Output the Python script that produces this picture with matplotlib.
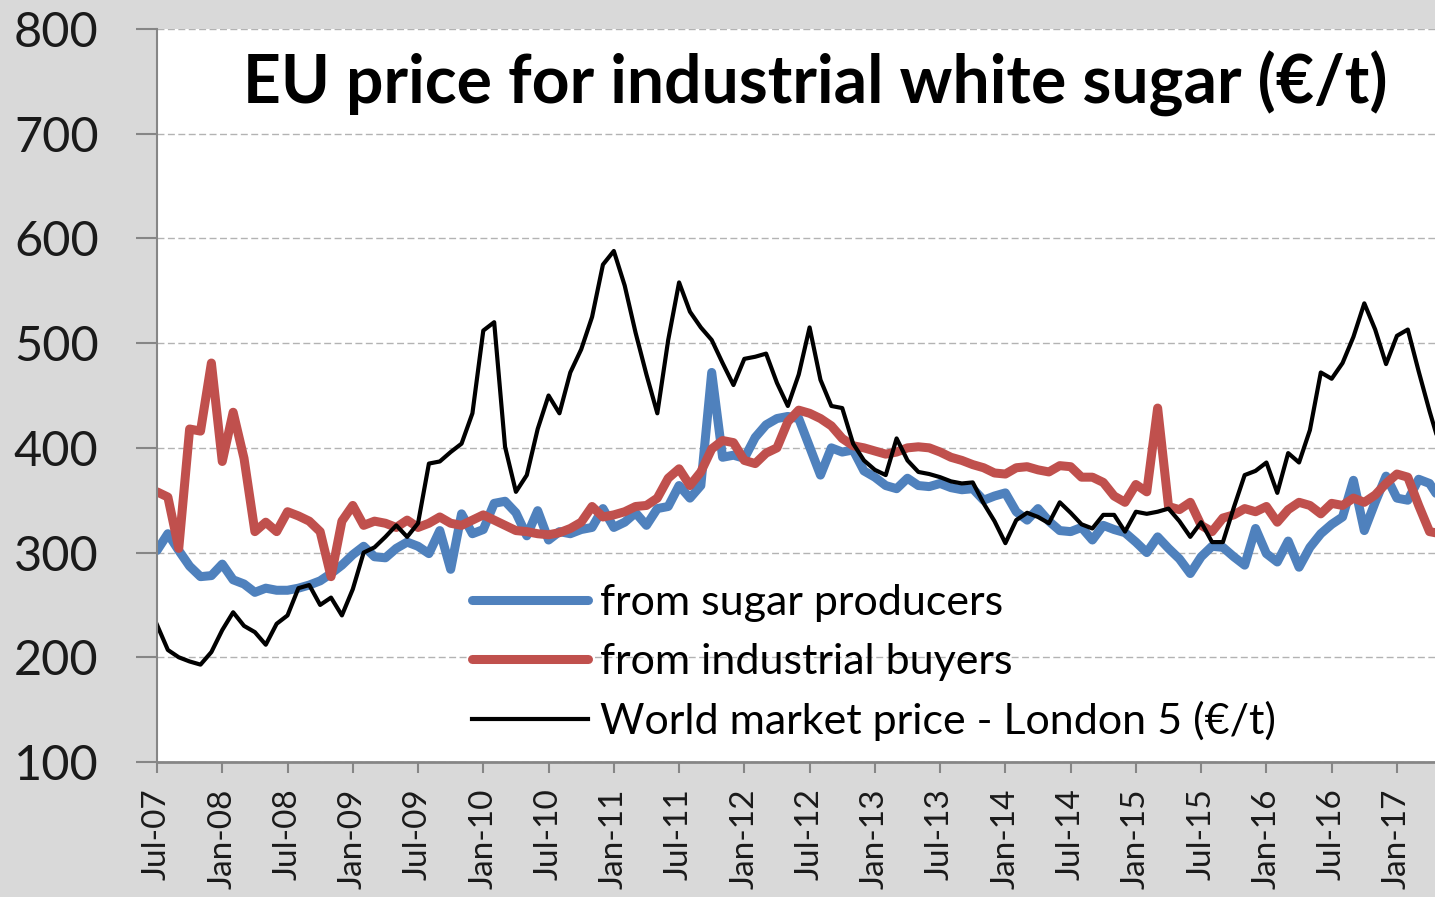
import numpy as np
import matplotlib.pyplot as plt

plt.rcParams['font.family'] = ['Lato', 'DejaVu Sans']

# monthly prices from Jul-07 onwards (EUR/t)
producers = [302, 318, 302, 287, 277, 278, 289, 274, 270, 262, 266, 264, 264, 266, 269, 273, 280, 288, 298, 306,
             296, 295, 304, 310, 306, 299, 321, 284, 337, 318, 322, 347, 349, 338, 316, 340, 312, 320, 318, 322,
             324, 342, 324, 329, 338, 326, 342, 344, 364, 352, 364, 472, 391, 393, 390, 410, 422, 428, 430,
             428, 401, 374, 400, 396, 398, 378, 372, 364, 361, 371, 364, 363, 366, 362, 360, 361, 350, 354,
             357, 339, 331, 342, 330, 321, 320, 324, 312, 326, 322, 319, 310, 300, 315, 304, 294, 280, 296, 306,
             305, 296, 288, 323, 299, 291, 311, 286, 305, 318, 327, 334, 369, 321, 348, 373, 352, 350, 370, 366, 350]

buyers = [358, 353, 304, 418, 416, 481, 387, 434, 390, 320, 329, 320, 339, 335, 330, 320, 277, 330, 345, 326,
          330, 328, 324, 331, 324, 328, 334, 328, 326, 331, 336, 331, 326, 321, 320, 318, 317, 319, 323, 329,
          344, 334, 336, 339, 344, 345, 352, 371, 380, 364, 377, 399, 407, 405, 388, 385, 395, 400, 425,
          436, 433, 428, 421, 409, 402, 400, 397, 394, 396, 400, 401, 400, 396, 391, 388, 384, 381, 376,
          375, 381, 382, 379, 377, 383, 382, 372, 372, 367, 354, 348, 365, 358, 438, 344, 341, 348, 326, 320,
          333, 336, 342, 339, 344, 329, 341, 348, 345, 337, 347, 345, 352, 348, 355, 366, 375, 372, 345, 320, 318]

world = [231, 207, 200, 196, 193, 205, 226, 243, 230, 224, 212, 232, 240, 266, 269, 250, 257, 240, 265, 300,
         305, 315, 326, 315, 328, 385, 387, 396, 404, 433, 512, 520, 401, 358, 374, 418, 450, 433, 472, 494,
         525, 575, 588, 555, 510, 470, 433, 503, 558, 530, 515, 503, 481, 460, 485, 487, 490, 462, 440,
         470, 515, 465, 440, 438, 404, 388, 379, 374, 409, 388, 377, 375, 372, 368, 366, 367, 347, 330,
         309, 331, 338, 334, 328, 348, 338, 327, 323, 336, 336, 320, 339, 337, 339, 342, 330, 315, 329, 310,
         310, 343, 374, 378, 386, 357, 395, 386, 417, 472, 466, 481, 506, 538, 513, 480, 507, 513, 473, 435, 400]

tick_labels = ["Jul-07", "Jan-08", "Jul-08", "Jan-09", "Jul-09", "Jan-10", "Jul-10", "Jan-11", "Jul-11",
               "Jan-12", "Jul-12", "Jan-13", "Jul-13", "Jan-14", "Jul-14", "Jan-15", "Jul-15", "Jan-16",
               "Jul-16", "Jan-17"]

series_names = ["from sugar producers", "from industrial buyers", "World market price - London 5 (€/t)"]

W, H = 1435, 897
fig = plt.figure(figsize=(W/100, H/100), dpi=100, facecolor='#d9d9d9')
ax = fig.add_axes([157/W, 1-762/H, 1-157/W, (762-29)/H])
ax.set_facecolor('white')

x = np.arange(len(producers))
ax.plot(x, producers, color='#4f81bd', lw=6.5, solid_joinstyle='round', solid_capstyle='round', label=series_names[0])
ax.plot(x, buyers, color='#c0504d', lw=6.5, solid_joinstyle='round', solid_capstyle='round', label=series_names[1])
ax.plot(x, world, color='black', lw=3.0, solid_joinstyle='round', label=series_names[2])

ax.set_xlim(0, 117.5)
ax.set_ylim(100, 800)
ax.set_yticks(range(100, 801, 100))
ax.set_xticks(np.arange(0, 6*len(tick_labels), 6))
ax.set_xticklabels(tick_labels, rotation=90)

ax.tick_params(axis='y', length=15, width=1.5, color='#868686', labelcolor='#1a1a1a', labelsize=35, pad=27)
ax.tick_params(axis='x', length=8, width=1.5, color='#868686', labelcolor='#1a1a1a', labelsize=24, pad=11)

ax.yaxis.grid(True, ls=(0, (5, 2.5)), color='#b3b3b3', lw=1)
ax.set_axisbelow(True)

for s in ['top', 'right']:
    ax.spines[s].set_visible(False)
ax.spines['left'].set(color='#868686', lw=1.5)
ax.spines['bottom'].set(color='#868686', lw=2)

fig.text(815/W, 1-84/H, "EU price for industrial white sugar (€/t)", ha='center', va='center',
         fontsize=47.5, weight='bold')

ax.legend(loc='upper left', bbox_to_anchor=(472/W, 1-584/H), bbox_transform=fig.transFigure,
          frameon=False, fontsize=31, handlelength=2.7, handletextpad=0.28, labelspacing=0.48,
          borderpad=0, borderaxespad=0)

fig.savefig("out.png", dpi=100, facecolor=fig.get_facecolor())
